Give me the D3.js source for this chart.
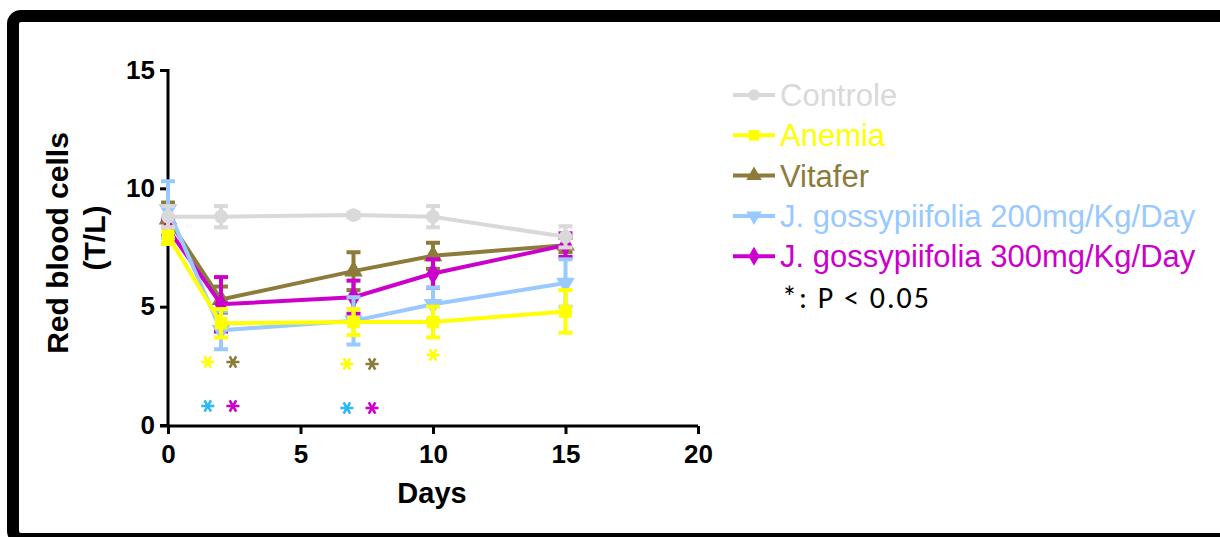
<!DOCTYPE html>
<html>
<head>
<meta charset="utf-8">
<script src="https://cdnjs.cloudflare.com/ajax/libs/d3/7.8.5/d3.min.js"></script>
<style>
  body { margin: 0; background: #fff; }
  svg { display: block; font-family: "Liberation Sans", Arial, sans-serif; }
</style>
</head>
<body>
<div id="chart"></div>
<script>
var width = 1220, height = 537;

// data (mean and SEM)
var days = [0, 2, 7, 10, 15];
var groups = ["Controle", "Anemia", "Vitafer", "J. gossypiifolia 200mg/Kg/Day", "J. gossypiifolia 300mg/Kg/Day"];
var controle = [8.8, 8.8, 8.87, 8.8, 7.95];
var controleSem = [0.45, 0.45, 0.1, 0.45, 0.45];
var anemia = [8.0, 4.3, 4.35, 4.35, 4.8];
var anemiaSem = [0.35, 0.6, 0.55, 0.65, 0.9];
var vitafer = [8.7, 5.3, 6.5, 7.15, 7.6];
var vitaferSem = [0.7, 0.55, 0.8, 0.55, 0.3];
var j200 = [9.1, 4.0, 4.4, 5.1, 6.0];
var j200Sem = [1.2, 0.8, 1.0, 0.7, 1.0];
var j300 = [8.3, 5.1, 5.4, 6.4, 7.6];
var j300Sem = [0.4, 1.15, 0.7, 0.6, 0.5];
var xTicks = [0, 5, 10, 15, 20];
var yTicks = [0, 5, 10, 15];

// significance asterisks: [day position, height, colour key]
var stars = [
  [1.5, 2.66, "Anemia"], [2.45, 2.66, "Vitafer"], [1.5, 0.8, "J200star"], [2.45, 0.8, "J300"],
  [6.75, 2.58, "Anemia"], [7.7, 2.58, "Vitafer"], [6.75, 0.72, "J200star"], [7.7, 0.72, "J300"],
  [10, 2.96, "Anemia"]
];

var colors = {
  Controle: "#d9d9d9", Anemia: "#ffff00", Vitafer: "#8c7b3a",
  J200: "#99c9ff", J300: "#cc00cc", J200star: "#2db8f5"
};

var series = [
  { name: groups[0], key: "Controle", vals: controle, sem: controleSem, sym: d3.symbolCircle, size: 150 },
  { name: groups[1], key: "Anemia", vals: anemia, sem: anemiaSem, sym: d3.symbolSquare, size: 160 },
  { name: groups[2], key: "Vitafer", vals: vitafer, sem: vitaferSem, sym: d3.symbolTriangle, size: 150, rot: 0 },
  { name: groups[3], key: "J200", vals: j200, sem: j200Sem, sym: d3.symbolTriangle, size: 150, rot: 180 },
  { name: groups[4], key: "J300", vals: j300, sem: j300Sem, sym: d3.symbolDiamond, size: 150 }
];
// drawing order (last on top)
var drawOrder = [2, 4, 3, 1, 0];

var svg = d3.select("#chart").append("svg")
    .attr("width", width)
    .attr("height", height);

// frame
svg.append("rect")
    .attr("x", 13).attr("y", 16)
    .attr("width", 1300).attr("height", 523)
    .attr("rx", 8)
    .attr("fill", "none")
    .attr("stroke", "#000")
    .attr("stroke-width", 12);

var xScale = d3.scaleLinear().domain([0, 20]).range([168, 698]);
var yScale = d3.scaleLinear().domain([0, 15]).range([425, 70]);

// axes
var yAxis = svg.append("g")
    .attr("transform", "translate(168,0)")
    .call(d3.axisLeft(yScale).tickValues(yTicks).tickSize(8).tickPadding(5));
var xAxis = svg.append("g")
    .attr("transform", "translate(0,426)")
    .call(d3.axisBottom(xScale).tickValues(xTicks).tickSize(8).tickPadding(11));

[xAxis, yAxis].forEach(function(ax) {
  ax.select(".domain").attr("stroke", "#000").attr("stroke-width", 3);
  ax.selectAll(".tick line").attr("stroke", "#000").attr("stroke-width", 3);
  ax.selectAll(".tick text")
      .attr("fill", "#000")
      .style("font-size", "26px")
      .style("font-weight", "bold");
});
yAxis.select(".domain").attr("d", "M-8,70.5H0V426");
xAxis.select(".domain").attr("d", "M160,0H698");

// axis titles
svg.append("text")
    .attr("transform", "translate(68,243) rotate(-90)")
    .attr("text-anchor", "middle")
    .style("font-size", "30px").style("font-weight", "bold")
    .text("Red blood cells");
svg.append("text")
    .attr("transform", "translate(105,238) rotate(-90)")
    .attr("text-anchor", "middle")
    .style("font-size", "30px").style("font-weight", "bold")
    .text("(T/L)");
svg.append("text")
    .attr("x", 432).attr("y", 503)
    .attr("text-anchor", "middle")
    .style("font-size", "29px").style("font-weight", "bold")
    .text("Days");

var line = d3.line()
    .x(function(d, i) { return xScale(days[i]); })
    .y(function(d) { return yScale(d); });

drawOrder.forEach(function(idx) {
  var s = series[idx];
  var c = colors[s.key];
  var g = svg.append("g");

  g.append("path")
      .attr("d", line(s.vals))
      .attr("fill", "none")
      .attr("stroke", c)
      .attr("stroke-width", 4);

  // error bars
  s.vals.forEach(function(v, i) {
    var x = xScale(days[i]);
    var y1 = yScale(v + s.sem[i]), y2 = yScale(v - s.sem[i]);
    g.append("line").attr("x1", x).attr("x2", x).attr("y1", y1).attr("y2", y2)
        .attr("stroke", c).attr("stroke-width", 4);
    [y1, y2].forEach(function(yy) {
      g.append("line").attr("x1", x - 7).attr("x2", x + 7).attr("y1", yy).attr("y2", yy)
          .attr("stroke", c).attr("stroke-width", 4);
    });
  });

  g.selectAll("path.pt")
      .data(s.vals)
      .enter()
      .append("path")
      .attr("class", "pt")
      .attr("d", d3.symbol().type(s.sym).size(s.size))
      .attr("transform", function(d, i) {
        return "translate(" + xScale(days[i]) + "," + yScale(d) + ")" + (s.rot ? " rotate(" + s.rot + ")" : "");
      })
      .attr("fill", c);
});

// asterisks
svg.selectAll("path.star")
    .data(stars)
    .enter()
    .append("path")
    .attr("class", "star")
    .attr("d", d3.symbol().type(d3.symbolAsterisk).size(120))
    .attr("transform", function(d) {
      return "translate(" + xScale(d[0]) + "," + yScale(d[1]) + ") rotate(90)";
    })
    .attr("fill", "none")
    .attr("stroke-width", 2.6)
    .attr("stroke", function(d) { return colors[d[2]]; });

// legend
var legend = svg.append("g");
series.forEach(function(s, i) {
  var y = 95 + i * 40.3;
  var c = colors[s.key];
  legend.append("line").attr("x1", 733).attr("x2", 775).attr("y1", y).attr("y2", y)
      .attr("stroke", c).attr("stroke-width", 4);
  legend.append("path")
      .attr("d", d3.symbol().type(s.sym).size(s.size * 0.7))
      .attr("transform", "translate(754," + y + ")" + (s.rot ? " rotate(" + s.rot + ")" : ""))
      .attr("fill", c);
  legend.append("text")
      .attr("x", 780).attr("y", y + 11)
      .style("font-size", "31px")
      .attr("fill", c)
      .text(s.name);
});
legend.append("text")
    .attr("x", 782).attr("y", 308)
    .style("font-size", "30px")
    .style("letter-spacing", "2px")
    .style("font-family", "Carlito, 'Open Sans', sans-serif")
    .attr("fill", "#000")
    .text("*: P < 0.05");
</script>
</body>
</html>
